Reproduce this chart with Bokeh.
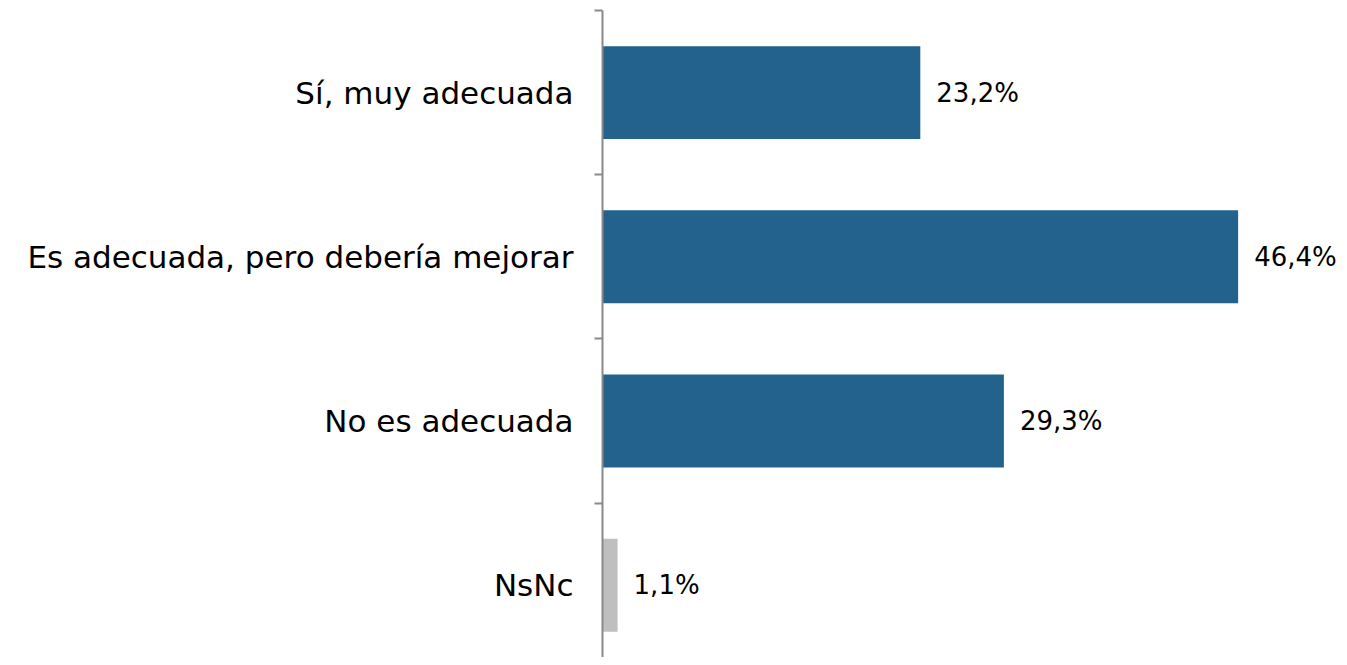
from bokeh.plotting import figure
from bokeh.models import Range1d, FixedTicker, ColumnDataSource
from bokeh.core.properties import value
from bokeh.embed import file_html
from bokeh.resources import INLINE

categories = ["Sí, muy adecuada", "Es adecuada, pero debería mejorar", "No es adecuada", "NsNc"]
values = [23.2, 46.4, 29.3, 1.1]
labels = ["23,2%", "46,4%", "29,3%", "1,1%"]
colors = ["#23628C", "#23628C", "#23628C", "#BFBFBF"]

pos = list(range(len(categories)))
src = ColumnDataSource(dict(y=pos, v=values, lab=labels, c=colors))

FONT = "DejaVu Sans"

p = figure(output_backend="svg", toolbar_location=None,
           frame_width=737, frame_height=647,
           min_border_left=602, min_border_right=0, min_border_top=10, min_border_bottom=0,
           x_range=Range1d(0, 53.8), y_range=Range1d(3.44, -0.5))
p.outline_line_color = None
p.grid.visible = False
p.xaxis.visible = False

p.hbar(y="y", right="v", left=0, height=0.566, fill_color="c", line_color=None, source=src)
p.text(x="v", y="y", text="lab", x_offset=16, text_baseline="middle", text_align="left",
       text_font=value(FONT), text_font_size="26px", text_color="#000000", source=src)

ya = p.yaxis[0]
ya.ticker = FixedTicker(ticks=pos, minor_ticks=[-0.5, 0.5, 1.5, 2.5, 3.5])
ya.major_label_overrides = {i: c for i, c in zip(pos, categories)}
ya.major_tick_line_color = None
ya.major_tick_out = 0
ya.major_tick_in = 0
ya.minor_tick_out = 8
ya.minor_tick_in = 0
ya.minor_tick_line_color = "#898989"
ya.minor_tick_line_width = 2
ya.axis_line_color = "#898989"
ya.axis_line_width = 2
ya.major_label_standoff = 21
ya.major_label_text_font = FONT
ya.major_label_text_font_size = "31px"
ya.major_label_text_color = "#000000"

open("out.html", "w").write(file_html(p, INLINE))
